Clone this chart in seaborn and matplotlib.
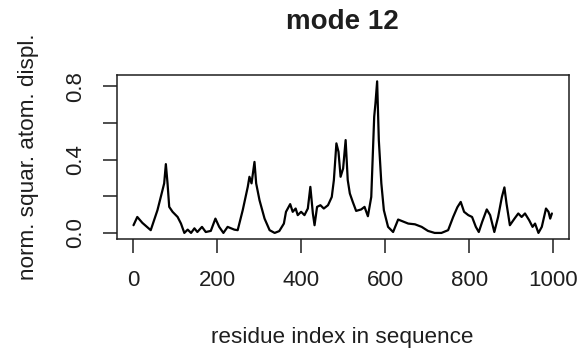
import numpy as np
import pandas as pd
import seaborn as sns
import matplotlib
matplotlib.use("Agg")
import matplotlib.pyplot as plt

# values (residue index, normalised squared displacement)
residue = [1, 10, 22, 42, 58, 70, 74, 78, 82, 86, 94, 106, 114, 122, 130, 138,
           146, 153, 164, 173, 185, 196, 205, 215, 225, 241, 249, 261, 273, 277,
           282, 289, 293, 301, 313, 325, 337, 348, 359, 364, 374, 380, 387, 392,
           400, 408, 416, 422, 428, 432, 438, 446, 454, 464, 473, 478, 484, 489,
           494, 500, 506, 511, 516, 523, 531, 543, 551, 559, 567, 574, 577, 581,
           585, 591, 597, 607, 619, 631, 643, 655, 671, 687, 702, 718, 734, 750,
           762, 772, 780, 788, 798, 807, 816, 823, 831, 842, 850, 860, 869, 878,
           884, 889, 897, 908, 917, 925, 933, 943, 951, 957, 965, 973, 983, 989,
           993, 997]
displ = [0.042, 0.087, 0.055, 0.015, 0.124, 0.233, 0.27, 0.375, 0.27, 0.142,
         0.115, 0.087, 0.051, 0.0, 0.018, 0.0, 0.025, 0.005, 0.033, 0.005,
         0.011, 0.078, 0.033, 0.0, 0.033, 0.018, 0.015, 0.124, 0.251, 0.306,
         0.27, 0.387, 0.27, 0.178, 0.078, 0.015, 0.0, 0.01, 0.051, 0.115, 0.157,
         0.115, 0.133, 0.097, 0.115, 0.097, 0.133, 0.251, 0.106, 0.042, 0.142,
         0.151, 0.133, 0.151, 0.196, 0.288, 0.488, 0.442, 0.306, 0.351, 0.506,
         0.288, 0.215, 0.169, 0.12, 0.128, 0.142, 0.091, 0.196, 0.633, 0.706,
         0.826, 0.506, 0.27, 0.124, 0.033, 0.005, 0.073, 0.062, 0.051, 0.047,
         0.033, 0.011, 0.0, 0.0, 0.015, 0.087, 0.14, 0.169, 0.115, 0.097, 0.087,
         0.033, 0.005, 0.06, 0.128, 0.097, 0.005, 0.087, 0.196, 0.248, 0.16,
         0.042, 0.078, 0.106, 0.087, 0.106, 0.069, 0.033, 0.051, 0.0, 0.033,
         0.133, 0.115, 0.078, 0.106]

x_ticks = [0, 200, 400, 600, 800, 1000]
y_ticks = [0.0, 0.2, 0.4, 0.6, 0.8]
y_tick_labels = ["0.0", "", "0.4", "", "0.8"]

df = pd.DataFrame({"residue": residue, "displ": displ})

sns.set_theme(style="white")
plt.rcParams["font.family"] = ["Liberation Sans", "DejaVu Sans"]
ink = "#1e1e1e"

fig = plt.figure(figsize=(5.85, 3.59), dpi=100)
ax = fig.add_axes([0.1995, 0.3343, 0.7726, 0.456])

sns.lineplot(data=df, x="residue", y="displ", ax=ax, color="black", linewidth=1.6)

ax.set_xlim(-39, 1037)
ax.set_ylim(-0.033, 0.859)
ax.set_xticks(x_ticks)
ax.set_yticks(y_ticks)
ax.set_yticklabels(y_tick_labels)

# R-style box round the plot
for s in ax.spines.values():
    s.set_visible(True)
    s.set_color(ink)
    s.set_linewidth(1.1)

ax.tick_params(axis="both", direction="out", length=10, width=1.1, color=ink,
               labelsize=16, labelcolor=ink, pad=12, bottom=True, left=True)
for lab in ax.get_yticklabels():
    lab.set_rotation(90)
    lab.set_va("center")

ax.set_xlabel("residue index in sequence", fontsize=16.2, color=ink)
ax.xaxis.set_label_coords(0.5, -0.599)
ax.xaxis.label.set_va("center")
ax.set_ylabel("norm. squar. atom. displ.", fontsize=16.2, color=ink)
ax.yaxis.set_label_coords(-0.196, 0.5)
ax.yaxis.label.set_va("center")

ax.set_title("mode 12", fontsize=20, fontweight="bold", color=ink,
             y=1.325, pad=0, va="center")

fig.savefig("out.png", dpi=100)
